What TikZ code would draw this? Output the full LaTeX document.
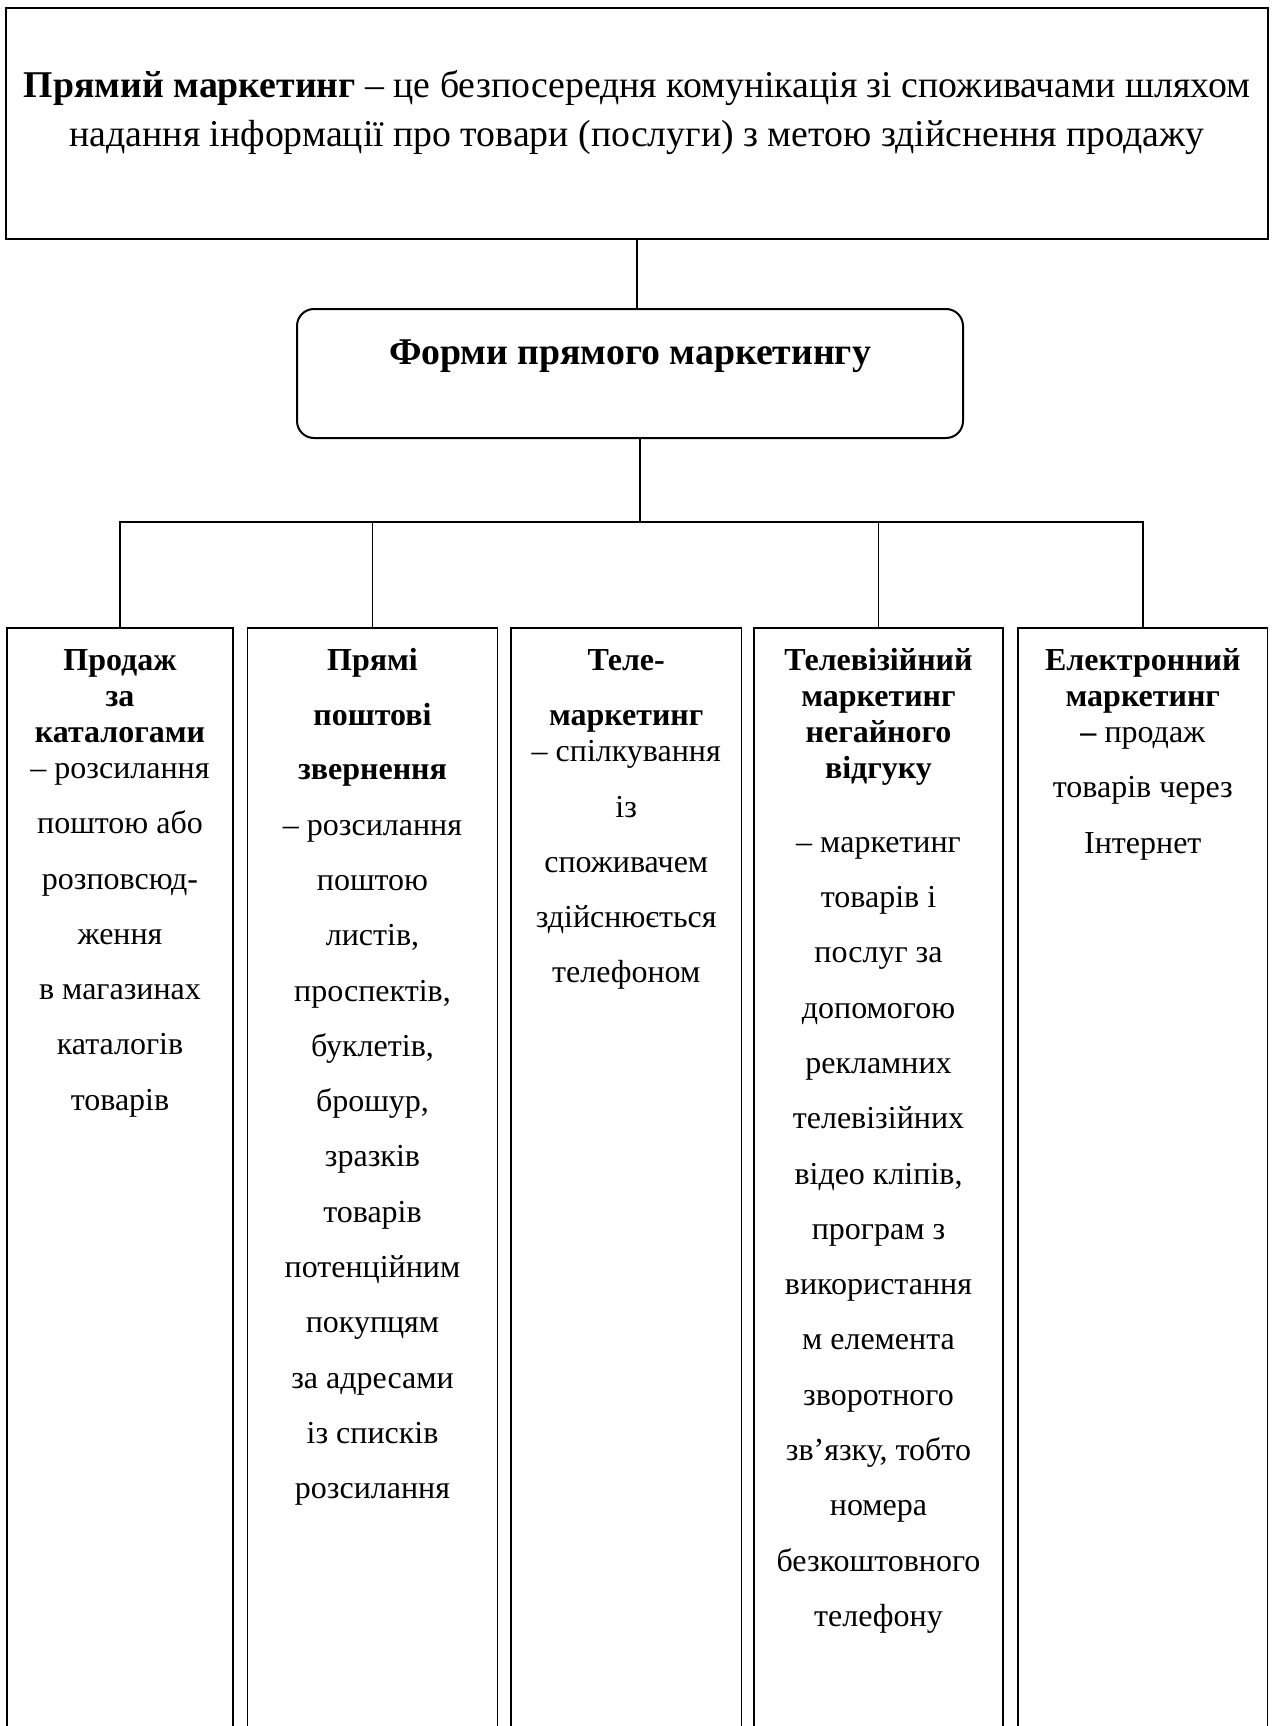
\documentclass[tikz,border=0pt]{standalone}
\usepackage{fontspec}
\setmainfont{Liberation Serif}
\begin{document}
\begin{tikzpicture}[x=1pt,y=1pt,
  boxline/.style={draw=black,line width=2pt,inner sep=0pt,outer sep=0pt},
  colbox/.style={draw=black,line width=1.6pt,inner sep=0pt,outer sep=0pt,anchor=north,minimum height=1250pt},
  conn/.style={draw=black,line width=1.5pt},
  coltext/.style={align=center,anchor=north,inner sep=0pt,font=\fontsize{32}{55.3}\selectfont},
  bigtext/.style={align=center,anchor=north,inner sep=0pt,font=\fontsize{37.8}{48.3}\selectfont}]
\useasboundingbox (0,0) rectangle (1273,-1726);
\clip (0,0) rectangle (1273,-1726);
% top box
\node[boxline,anchor=north west,minimum width=1262pt,minimum height=231pt] (top) at (6,-8) {};
\node[bigtext] (toptxt) at (637,-67.6) {\rule{0pt}{30pt}\textbf{Прямий маркетинг} – це безпосередня комунікація зі споживачами шляхом\\
надання інформації про товари (послуги) з метою здійснення продажу};
% forms box
\node[boxline,rounded corners=17pt,anchor=north west,minimum width=666pt,minimum height=129pt] (forms) at (297,-309) {};
\node[bigtext] (formstxt) at (630,-334.4) {\rule{0pt}{30pt}\textbf{Форми прямого маркетингу}};
% columns
\node[colbox,minimum width=226pt] (c1) at (120,-628) {};
\node[colbox,minimum width=250pt] (c2) at (372.5,-628) {};
\node[colbox,minimum width=230.5pt] (c3) at (626.25,-628) {};
\node[colbox,minimum width=249pt] (c4) at (878.5,-628) {};
\node[colbox,minimum width=249.6pt] (c5) at (1142.8,-628) {};
% connectors
\coordinate (bus) at (640,-522);
\draw[conn] (top.south) -- (top.south |- forms.north);
\draw[conn] (forms.south -| bus) -- (bus);
\draw[conn] (c1.north) -- (c1.north |- bus) -- (c5.north |- bus) -- (c5.north);
\draw[conn] (c2.north) -- (c2.north |- bus);
\draw[conn] (c4.north) -- (c4.north |- bus);
% column texts
\node[coltext] (t1) at (120,-645.2) {\rule{0pt}{25pt}\textbf{Продаж}\\[-19.3pt]
\textbf{за}\\[-19.3pt]
\textbf{каталогами}\\[-19.3pt]
– розсилання\\ поштою або\\ розповсюд-\\ ження\\ в магазинах\\ каталогів\\ товарів};
\node[coltext] (t2) at (372.5,-645.2) {\rule{0pt}{25pt}\textbf{Прямі}\\[-0.6pt]
\textbf{поштові}\\[-0.6pt]
\textbf{звернення}\\
– розсилання\\ поштою\\ листів,\\ проспектів,\\ буклетів,\\ брошур,\\ зразків\\ товарів\\ потенційним\\ покупцям\\ за адресами\\ із списків\\ розсилання};
\node[coltext] (t3) at (626.25,-645.2) {\rule{0pt}{25pt}\textbf{Теле-}\\
\textbf{маркетинг}\\[-19.3pt]
– спілкування\\ із\\ споживачем\\ здійснюється\\ телефоном};
\node[coltext] (t4) at (878.5,-645.2) {\rule{0pt}{25pt}\textbf{Телевізійний}\\[-19.3pt]
\textbf{маркетинг}\\[-19.3pt]
\textbf{негайного}\\[-19.3pt]
\textbf{відгуку}\\[18.5pt]
– маркетинг\\ товарів і\\ послуг за\\ допомогою\\ рекламних\\ телевізійних\\ відео кліпів,\\ програм з\\ використання\\ м елемента\\ зворотного\\ зв’язку, тобто\\ номера\\ безкоштовного\\ телефону};
\node[coltext] (t5) at (1142.8,-645.2) {\rule{0pt}{25pt}\textbf{Електронний}\\[-19.3pt]
\textbf{маркетинг}\\[-19.3pt]
\textbf{–} продаж\\ товарів через\\ Інтернет};
\end{tikzpicture}
\end{document}
